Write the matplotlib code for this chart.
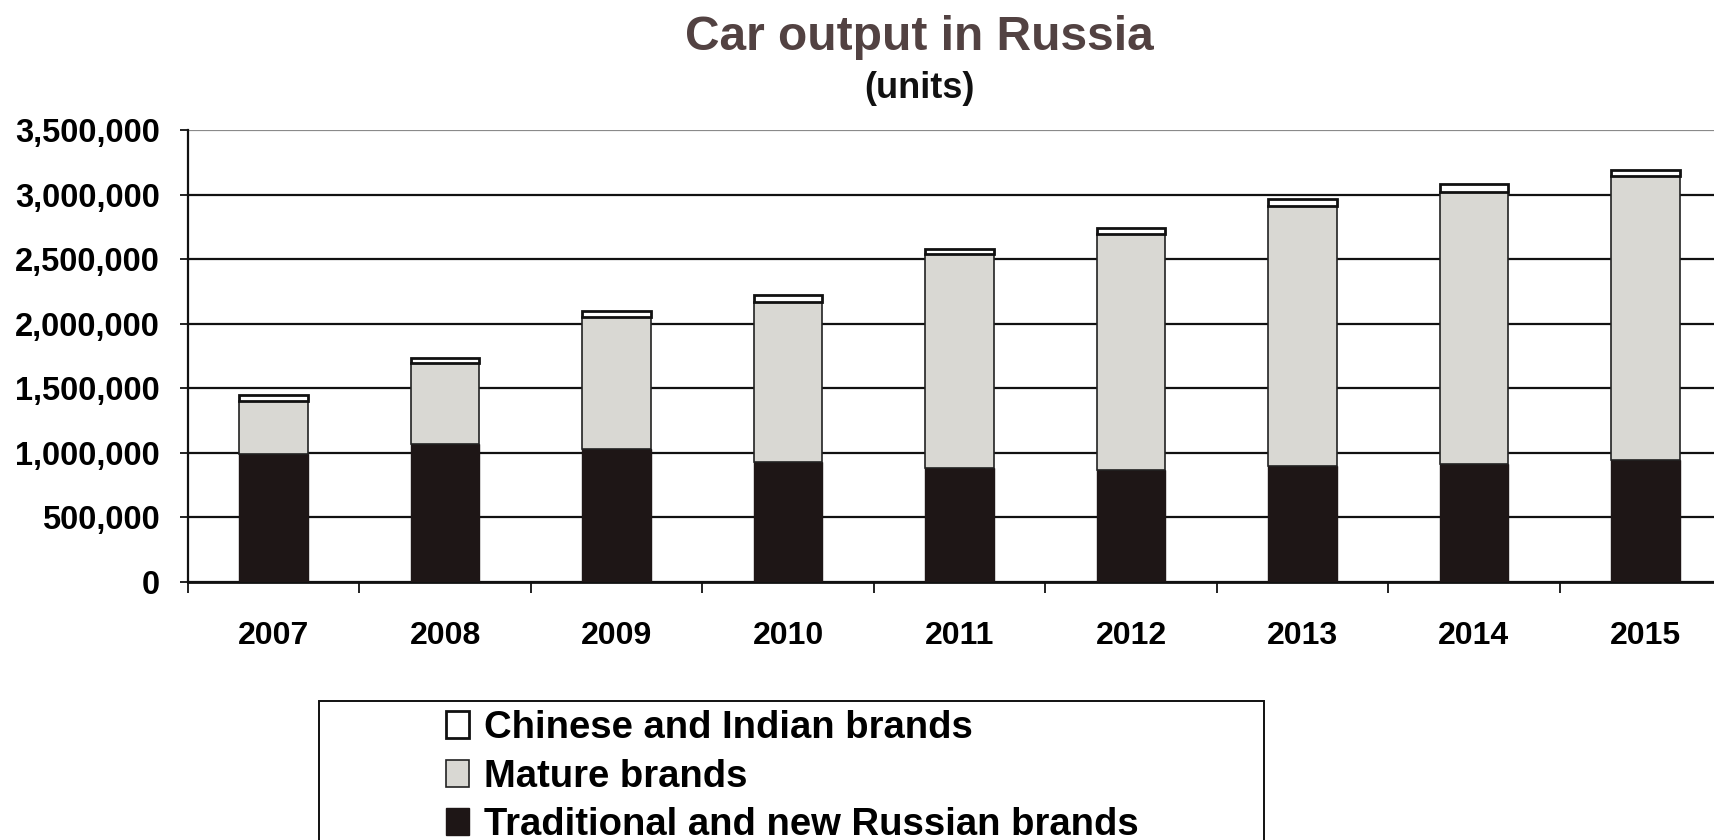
import numpy as np
import matplotlib.pyplot as plt
from matplotlib.patches import Rectangle
from matplotlib.ticker import FuncFormatter, FixedLocator

years = ['2007', '2008', '2009', '2010', '2011', '2012', '2013', '2014', '2015']
russian = [995000, 1072000, 1026000, 930000, 884000, 871000, 902000, 917000, 948000]
mature = [408000, 626000, 1023000, 1241000, 1656000, 1824000, 2013000, 2104000, 2192000]
chinese_indian = [47000, 33000, 49000, 51000, 36000, 49000, 49000, 64000, 54000]

plt.rcParams['font.family'] = ['Liberation Sans', 'DejaVu Sans']
plt.rcParams['font.weight'] = 'bold'

fig = plt.figure(figsize=(17.15, 8.4), dpi=100, facecolor='white')
W, H = 1715, 840
ax = fig.add_axes([188 / W, 1 - 582 / H, 1543 / W, 452 / H])

x = np.arange(len(years))
bw = 0.40
black = '#1e1616'
grey = '#d9d8d3'

russian_arr = np.array(russian)
mature_arr = np.array(mature)

ax.bar(x, russian, bw, color=black, edgecolor=black, linewidth=1, zorder=3,
       label='Traditional and new Russian brands')
ax.bar(x, mature, bw, bottom=russian_arr, color=grey, edgecolor='#222', linewidth=1.2, zorder=3,
       label='Mature brands')
ax.bar(x, chinese_indian, bw, bottom=russian_arr + mature_arr, color='white', edgecolor='#111',
       linewidth=2.0, zorder=3, label='Chinese and Indian brands')

ax.set_xlim(-0.5, 8.5)
ax.set_ylim(0, 3500000)
ax.set_yticks(np.arange(0, 3500001, 500000))
ax.yaxis.set_major_formatter(FuncFormatter(lambda v, p: f'{int(v):,}'))
ax.grid(axis='y', color='#111', linewidth=1.6, zorder=1)
for yline in ax.get_ygridlines()[-1:]:
    yline.set_color('#8a8a8a')

ax.set_xticks(x)
ax.set_xticklabels(years)
ax.xaxis.set_minor_locator(FixedLocator(np.arange(-0.5, 9, 1)))
ax.tick_params(axis='x', which='major', length=0, pad=28, labelsize=23)
ax.tick_params(axis='x', which='minor', length=8, width=1.3, color='#111')
ax.tick_params(axis='y', length=6, width=1.3, pad=14, labelsize=23.5, color='#111')

for side in ['top', 'right']:
    ax.spines[side].set_visible(False)
ax.spines['left'].set_linewidth(1.6)
ax.spines['bottom'].set_linewidth(2)
ax.spines['left'].set_color('#111')
ax.spines['bottom'].set_color('#111')

fig.text(919 / W, 1 - 38 / H, 'Car output in Russia', ha='center', va='center',
         fontsize=34.5, color='#524242', weight='bold')
fig.text(919 / W, 1 - 89 / H, '(units)', ha='center', va='center',
         fontsize=26, color='#111', weight='bold')

# legend frame runs off the bottom of the figure
fig.patches.append(Rectangle((319 / W, -0.05), (1264 - 319) / W, (840 - 701) / H + 0.05,
                             transform=fig.transFigure, fill=False, edgecolor='#111',
                             linewidth=1.4))
handles, labels = ax.get_legend_handles_labels()
leg = fig.legend(handles[::-1], labels[::-1], loc='upper left',
                 bbox_to_anchor=(446 / W, 1 - 710 / H), frameon=False,
                 fontsize=27.5, handlelength=0.6, handleheight=0.7, handletextpad=0.4,
                 labelspacing=0.33, borderpad=0, borderaxespad=0)

fig.savefig('out.png', dpi=100, facecolor='white')
